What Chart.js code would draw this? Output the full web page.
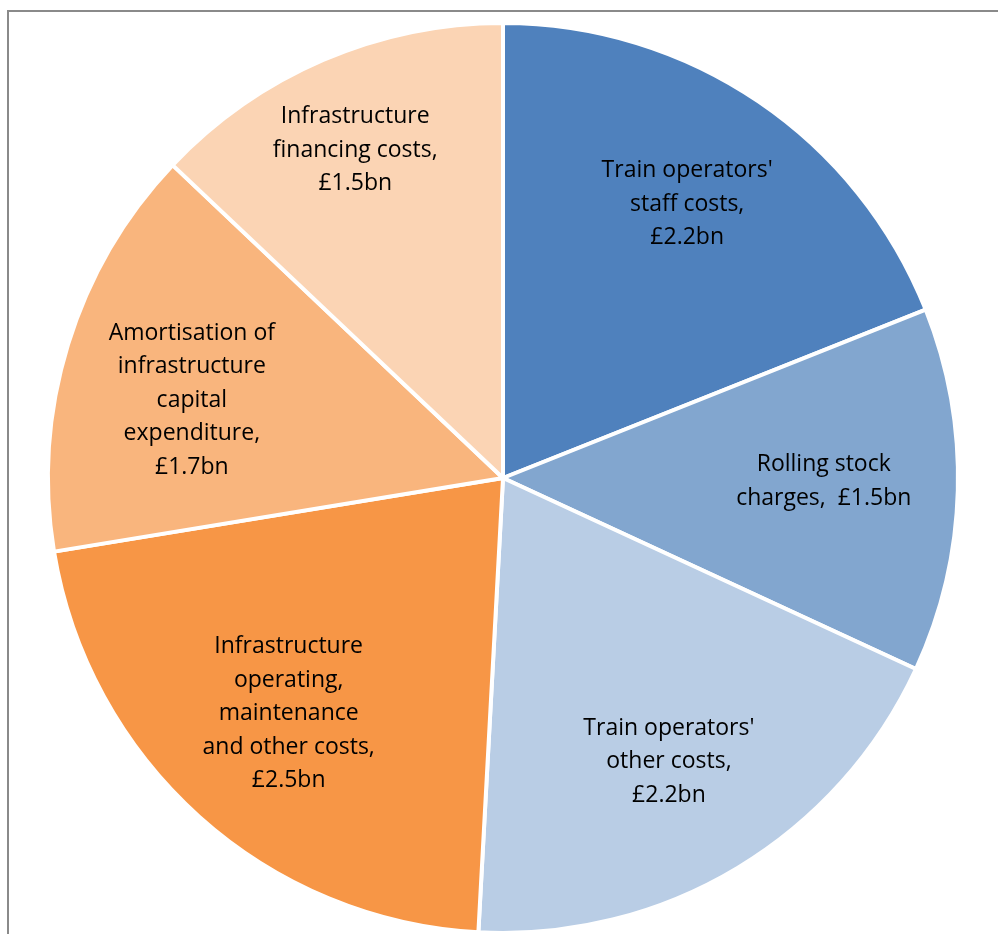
<!DOCTYPE html>
<html>
<head>
<meta charset="utf-8">
<script src="https://cdn.jsdelivr.net/npm/chart.js@4"></script>
<style>
  html, body { margin: 0; padding: 0; background: #ffffff; }
  #wrap { position: relative; width: 998px; height: 934px; }
</style>
</head>
<body>
<div id="wrap"><canvas id="chart" width="998" height="934"></canvas></div>
<script>
// Rail industry cost breakdown (£bn)
const categories = [
  "Train operators' staff costs",
  "Rolling stock charges",
  "Train operators' other costs",
  "Infrastructure operating, maintenance and other costs",
  "Amortisation of infrastructure capital expenditure",
  "Infrastructure financing costs"
];
const values = [2.2, 1.5, 2.2, 2.5, 1.7, 1.5];

// Wrapped label text; {v} is replaced by the slice's value
const labelLines = [
  ["Train operators'", "staff costs,", "{v}"],
  ["Rolling stock", "charges,  {v}"],
  ["Train operators'", "other costs,", "{v}"],
  ["Infrastructure", "operating,", "maintenance", "and other costs,", "{v}"],
  ["Amortisation of", "infrastructure", "capital", "expenditure,", "{v}"],
  ["Infrastructure", "financing costs,", "{v}"]
];

const colors = ["#4F81BD", "#82A6CF", "#B9CDE5", "#F79646", "#F9B57D", "#FBD4B4"];

const formatValue = v => "\u00A3" + v.toFixed(1) + "bn";

// Frame lines along the top and left edge
const framePlugin = {
  id: "frame",
  beforeDraw(chart) {
    const ctx = chart.ctx;
    ctx.save();
    ctx.strokeStyle = "#8a8a8a";
    ctx.lineWidth = 2;
    ctx.beginPath();
    ctx.moveTo(7, 11);
    ctx.lineTo(chart.width, 11);
    ctx.moveTo(8, 10);
    ctx.lineTo(8, chart.height);
    ctx.stroke();
    ctx.restore();
  }
};

// Multi-line labels inside each slice
const sliceLabelPlugin = {
  id: "sliceLabels",
  afterDatasetsDraw(chart, args, opts) {
    const ctx = chart.ctx;
    const meta = chart.getDatasetMeta(0);
    const ds = chart.data.datasets[0];
    ctx.save();
    ctx.font = opts.font;
    ctx.fillStyle = opts.color;
    ctx.textAlign = "center";
    ctx.textBaseline = "middle";
    meta.data.forEach((arc, i) => {
      const p = arc.getProps(["x", "y", "startAngle", "endAngle", "outerRadius"], true);
      const mid = (p.startAngle + p.endAngle) / 2 + (opts.angleShift[i] || 0) * Math.PI / 180;
      const d = p.outerRadius * opts.radial[i];
      const cx = p.x + Math.cos(mid) * d;
      const cy = p.y + Math.sin(mid) * d;
      const lines = labelLines[i].map(s => s.replace("{v}", formatValue(ds.data[i])));
      const lh = opts.lineHeight;
      const top = cy - (lines.length - 1) * lh / 2;
      lines.forEach((line, k) => ctx.fillText(line, cx, top + k * lh));
    });
    ctx.restore();
  }
};

new Chart(document.getElementById("chart"), {
  type: "pie",
  data: {
    labels: categories,
    datasets: [{
      data: values,
      backgroundColor: colors,
      borderColor: "#ffffff",
      borderWidth: 4,
      radius: 455
    }]
  },
  options: {
    responsive: false,
    animation: false,
    rotation: 0,
    layout: { padding: { left: 18, right: 10, top: 32, bottom: 10 } },
    plugins: {
      legend: { display: false },
      tooltip: { enabled: false },
      sliceLabels: {
        font: "23px 'Open Sans', 'Noto Sans', sans-serif",
        color: "#000000",
        lineHeight: 33.5,
        radial: [0.725, 0.705, 0.722, 0.70, 0.705, 0.79],
        angleShift: [-0.2, -0.9, 0.7, 0.4, -3, -1]
      }
    }
  },
  plugins: [framePlugin, sliceLabelPlugin]
});
</script>
</body>
</html>
